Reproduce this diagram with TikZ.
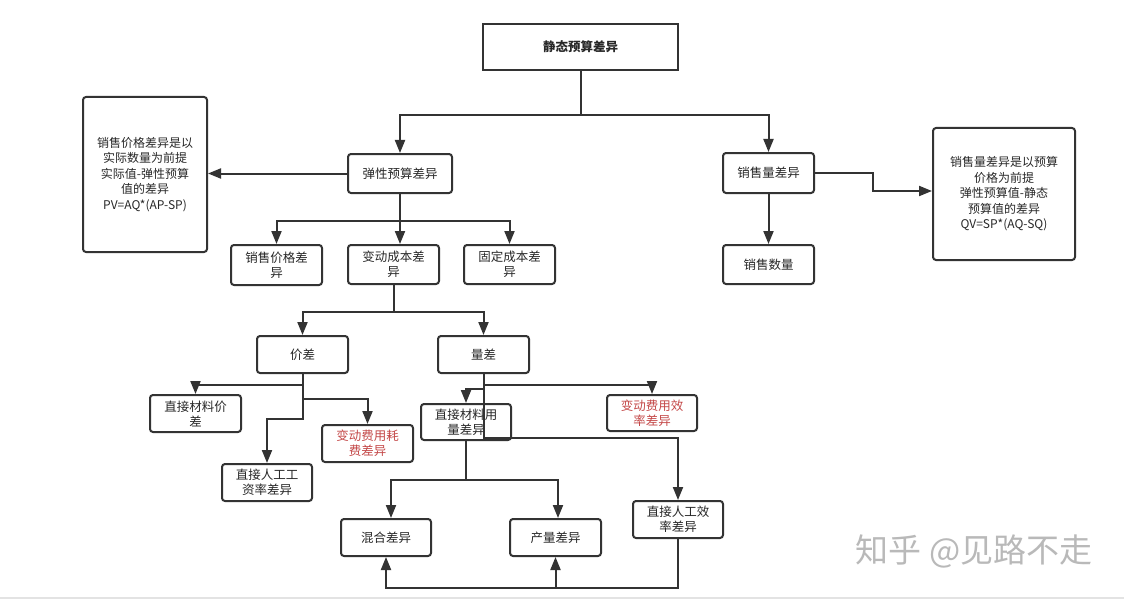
\documentclass[tikz,border=0pt]{standalone}
\usepackage{fontspec}
\usetikzlibrary{arrows.meta}
\setmainfont{Noto Sans CJK SC}
\newfontfamily\cjk{Noto Sans CJK SC}
\definecolor{linec}{RGB}{51,51,51}
\definecolor{textc}{RGB}{40,40,40}
\definecolor{redt}{RGB}{196,72,72}
\definecolor{wmark}{RGB}{185,185,185}
\tikzset{
  box/.style={draw=linec, line width=2pt, rounded corners=3pt, fill=white,
    align=center, text=textc, inner sep=0pt,
    font=\cjk\fontsize{12.5}{15}\selectfont},
  note/.style={box, font=\cjk\fontsize{12}{15.5}\selectfont},
  topbox/.style={draw=linec, line width=2pt, fill=white, align=center,
    text=textc, inner sep=0pt, font=\cjk\bfseries\fontsize{12.5}{15}\selectfont},
  redtext/.style={text=redt},
  conn/.style={draw=linec, line width=2pt},
  arr/.style={conn, -{Triangle[length=13pt,width=10pt]}},
}
\begin{document}
\begin{tikzpicture}[x=1pt,y=-1pt]
\useasboundingbox (0,0) rectangle (1124,599);
\fill[gray!22] (0,596.5) rectangle (1124,599);

% nodes
\node[topbox, minimum width=195pt, minimum height=46pt] (top) at (580.5,47) {静态预算差异};
\node[box, minimum width=104pt, minimum height=39pt] (flex) at (400,173.5) {弹性预算差异};
\node[note, minimum width=124pt, minimum height=155pt] (lnote) at (145,174.5)
  {销售价格差异是以\\实际数量为前提\\实际值-弹性预算\\值的差异\\PV=AQ*(AP-SP)};
\node[box, minimum width=91pt, minimum height=40pt] (svol) at (768.5,173) {销售量差异};
\node[note, minimum width=142pt, minimum height=132pt] (rnote) at (1004,194)
  {销售量差异是以预算\\价格为前提\hspace*{36pt}\\弹性预算值-静态\\预算值的差异\\QV=SP*(AQ-SQ)};
\node[box, minimum width=91pt, minimum height=39pt] (sqty) at (768.5,264.5) {销售数量};
\node[box, minimum width=91pt, minimum height=40pt] (pricev) at (276.5,265) {销售价格差\\异};
\node[box, minimum width=91pt, minimum height=39pt] (varc) at (393.5,264.5) {变动成本差\\异};
\node[box, minimum width=91pt, minimum height=39pt] (fixc) at (509.5,264.5) {固定成本差\\异};
\node[box, minimum width=91pt, minimum height=37pt] (jia) at (302.5,354.5) {价差};
\node[box, minimum width=91pt, minimum height=37pt] (liang) at (483.5,354.5) {量差};
\node[box, minimum width=91pt, minimum height=37pt] (dmp) at (195.5,413.5) {直接材料价\\差};
\node[box, redtext, minimum width=91pt, minimum height=37pt] (vsp) at (367.5,443.5) {变动费用耗\\费差异};
\node[box, minimum width=90pt, minimum height=37pt] (dlr) at (267,482.5) {直接人工工\\资率差异};
\node[box, minimum width=90pt, minimum height=36pt] (dmq) at (466,422) {直接材料用\\量差异};
\node[box, redtext, minimum width=90pt, minimum height=36pt] (vse) at (652,413) {变动费用效\\率差异};
\node[box, minimum width=90pt, minimum height=37pt] (mix) at (386,537.5) {混合差异};
\node[box, minimum width=91pt, minimum height=37pt] (yld) at (555.5,537.5) {产量差异};
\node[box, minimum width=90pt, minimum height=37pt] (dle) at (678,519.5) {直接人工效\\率差异};

\node[text=wmark, font=\cjk\fontsize{33}{33}\selectfont, inner sep=0pt] (wm) at (974,551) {知乎 @见路不走};

% connectors
\draw[arr] (top.south) -- ++(0,44) -| (flex.north);
\draw[arr] (top.south) -- ++(0,44) -| (svol.north);
\draw[arr] (flex.west) -- (flex.west -| lnote.east);
\draw[arr] (flex.south) -- ++(0,27) -| (pricev.north);
\draw[arr] (flex.south) -- (flex.south |- varc.north);
\draw[arr] (flex.south) -- ++(0,27) -| (fixc.north);
\draw[arr] (varc.south) -- ++(0,27) -| (jia.north);
\draw[arr] (varc.south) -- ++(0,27) -| (liang.north);
\draw[arr] (jia.south) -- ++(0,11) -| (dmp.north);
\draw[arr] (jia.south) -- ++(0,25) -| (vsp.north);
\draw[arr] (jia.south) -- ++(0,45) -| (dlr.north);
\draw[arr] (liang.south) -- ++(0,11) -| (vse.north);
\draw[arr] (liang.south) -- ++(0,15) -| (dmq.north);
\draw[arr] (liang.south) -- ++(0,64) -| (dle.north);
\coordinate (mixin) at ([xshift=5pt]mix.north);
\coordinate (yldin) at ([xshift=2.5pt]yld.north);
\draw[arr] (dmq.south) -- ++(0,39) -| (mixin);
\draw[arr] (dmq.south) -- ++(0,39) -| (yldin);
\draw[arr] (dle.south) -- ++(0,49) -| (mix.south);
\draw[arr] (dle.south) -- ++(0,49) -| (yld.south);
\draw[arr] (svol.south) -- (sqty.north);
\coordinate (rin) at ([yshift=3pt]rnote.west);
\draw[arr] (svol.east) -- (873,173) |- (rin);
\end{tikzpicture}
\end{document}
